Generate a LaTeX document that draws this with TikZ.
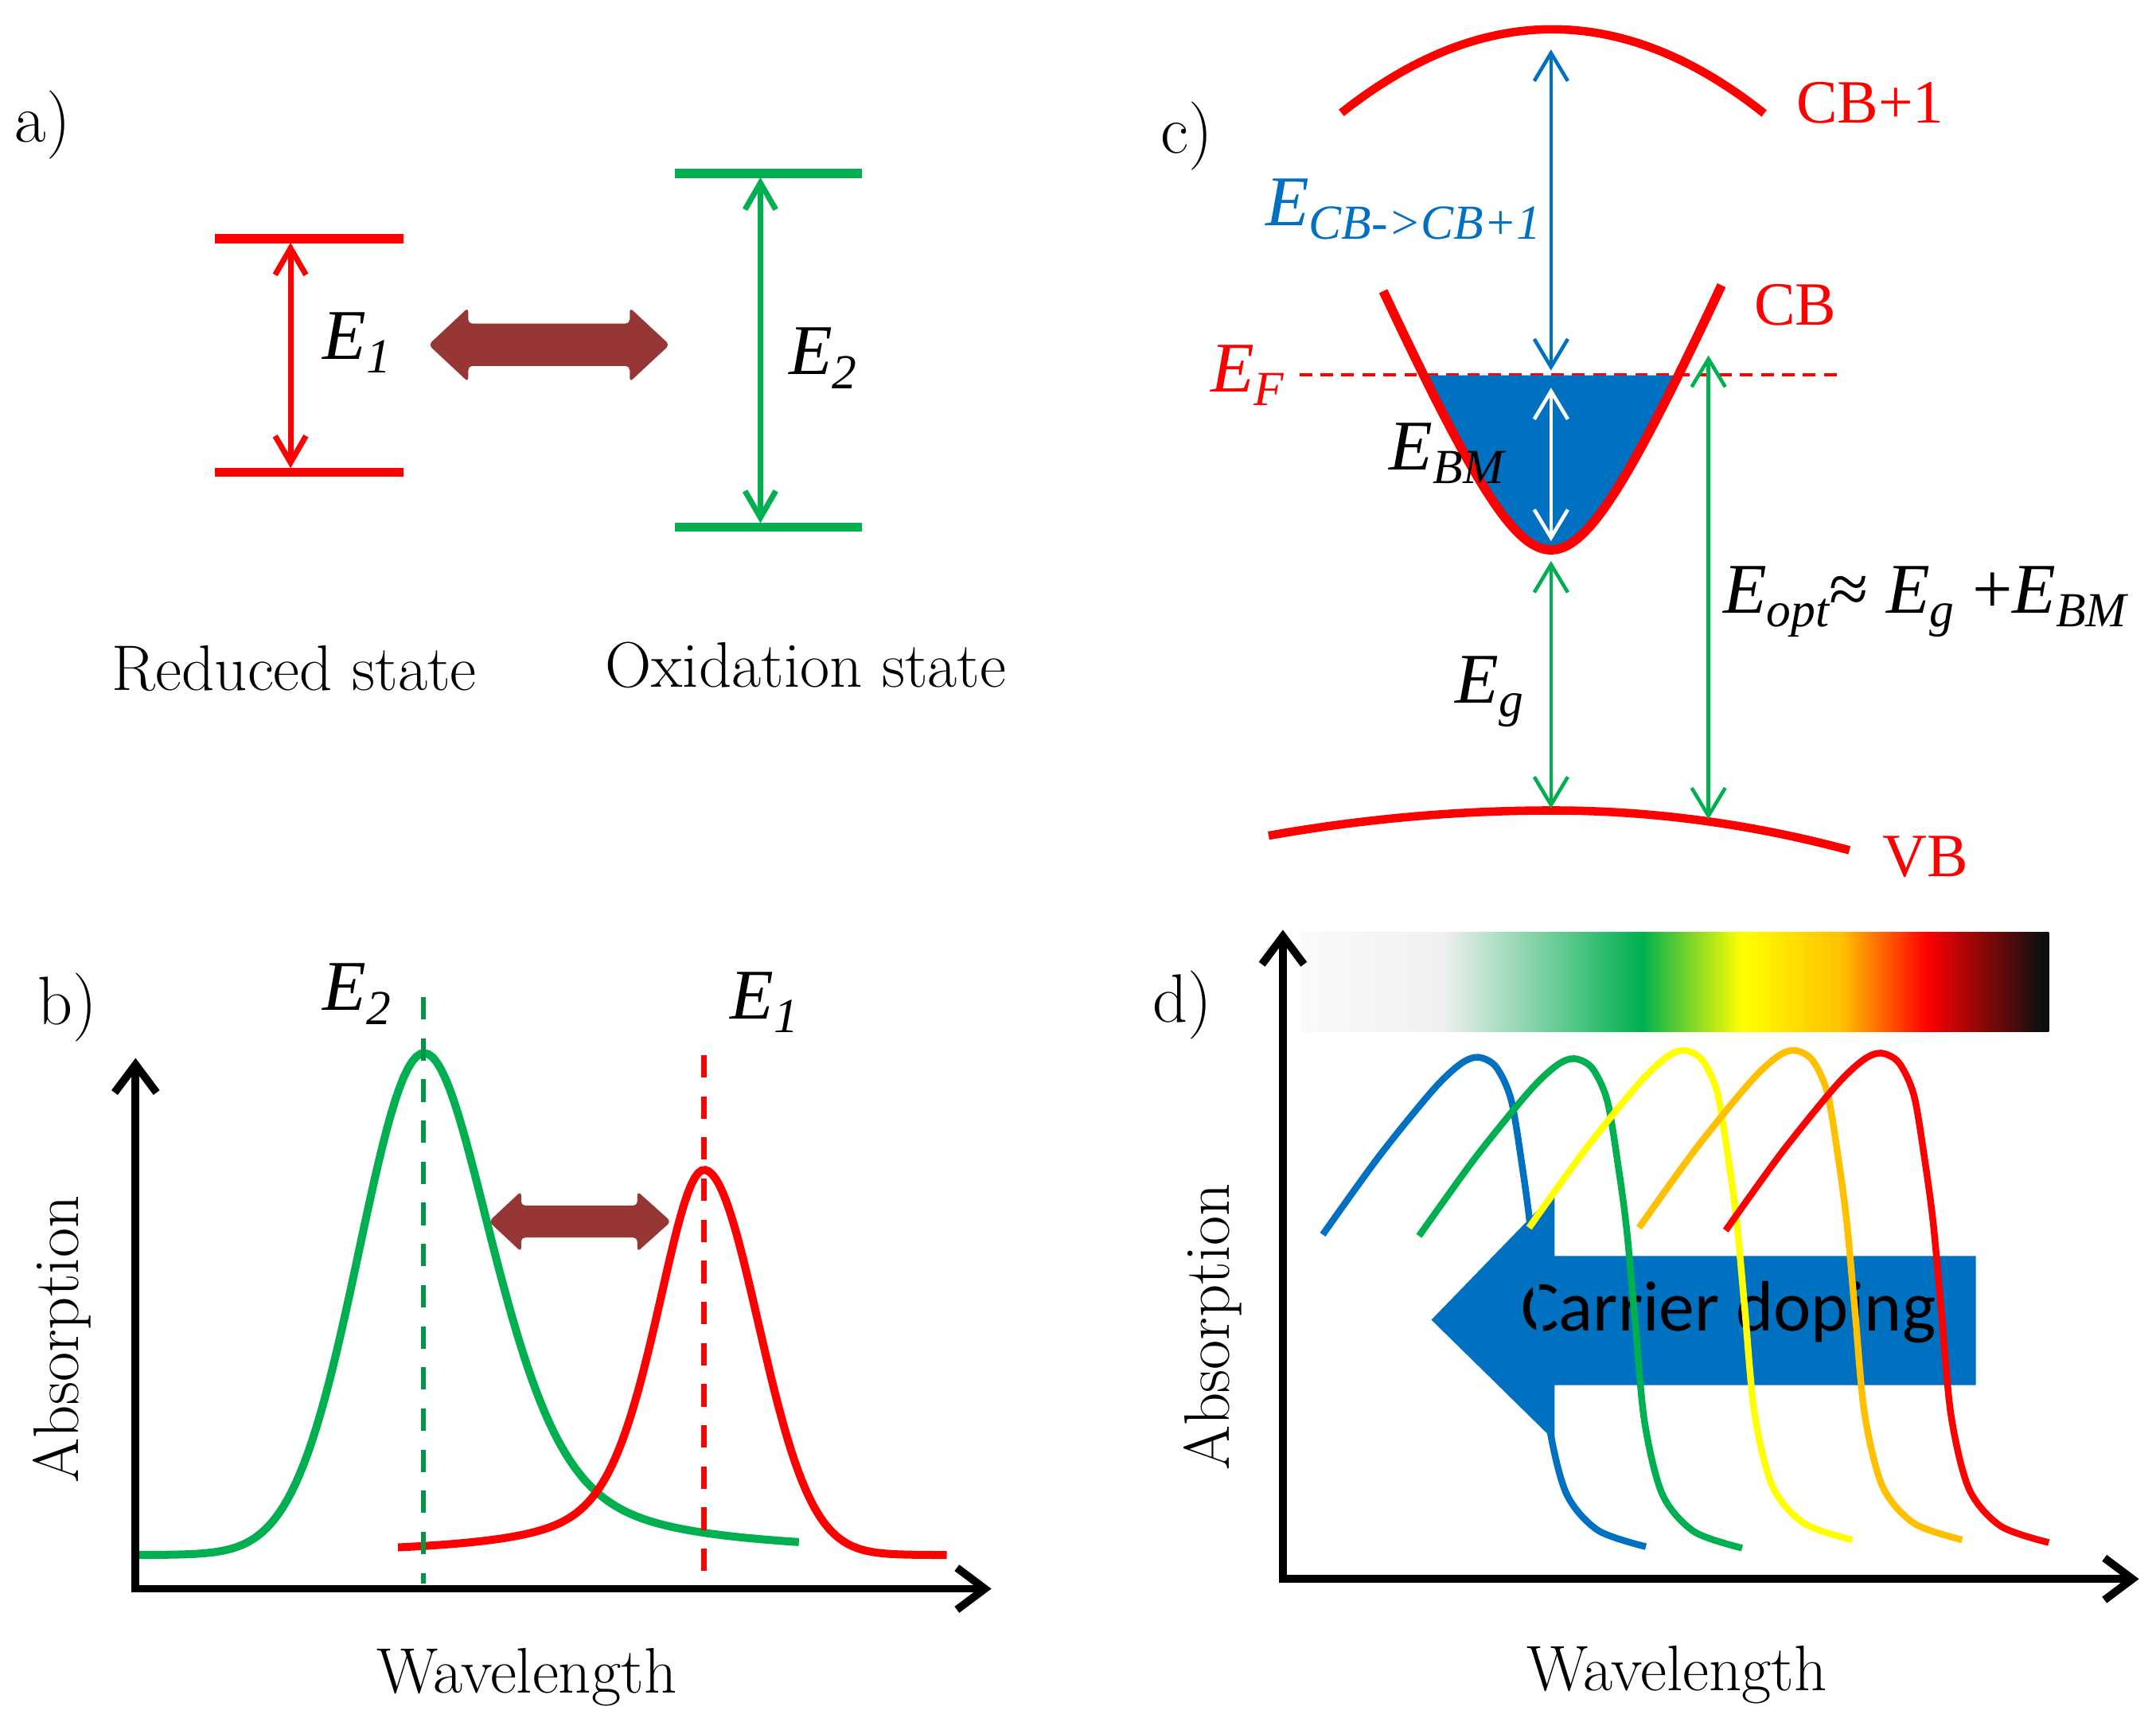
\documentclass[tikz,border=0pt]{standalone}
\usepackage{fontspec}
\newfontfamily\calibri{Carlito}
\newfontfamily\tnr{Liberation Serif}
\usetikzlibrary{arrows.meta}
\definecolor{ored}{RGB}{255,0,0}
\definecolor{ogreen}{RGB}{0,176,80}
\definecolor{dgreen}{RGB}{0,150,70}
\definecolor{oblue}{RGB}{0,112,192}
\definecolor{oorange}{RGB}{255,192,0}
\definecolor{oyellow}{RGB}{255,255,0}
\definecolor{obrown}{RGB}{150,55,53}
\definecolor{barL}{RGB}{250,250,250}
\definecolor{barW}{RGB}{240,240,240}
\definecolor{barK}{RGB}{15,15,15}
\pgfdeclarehorizontalshading{spectrum}{100bp}{color(0bp)=(barL); color(25bp)=(barL); color(34.5bp)=(barW); color(47.8bp)=(ogreen); color(54.5bp)=(oyellow); color(61.2bp)=(oorange); color(66.8bp)=(ored); color(74.5bp)=(barK); color(100bp)=(barK)}
\newcommand{\Es}[1]{{\tnr\itshape E}\raisebox{-4.9pt}{\tnr\fontsize{17.5}{19}\selectfont\itshape #1}}
\begin{document}
\begin{tikzpicture}[x=0.017277cm, y=-0.017277cm,
  lbl/.style={font=\fontsize{23}{27}\selectfont, inner sep=0pt},
  plbl/.style={font=\fontsize{24.5}{28}\selectfont, inner sep=0pt},
  elbl/.style={font=\tnr\fontsize{25.5}{29}\selectfont, inner sep=0pt, anchor=base west},
  bandlbl/.style={font=\tnr\fontsize{22}{26}\selectfont, text=ored, inner sep=0pt, anchor=base west},
  level/.style={line width=3.2pt},
  thinarr/.style={line width=2pt, {Straight Barb[length=9.5pt,width=11pt]}-{Straight Barb[length=9.5pt,width=11pt]}},
  carr/.style={line width=1.3pt, {Straight Barb[length=10pt,width=12pt]}-{Straight Barb[length=10pt,width=12pt]}},
  axes/.style={line width=2.8pt, {Straight Barb[length=10pt,width=15pt]}-{Straight Barb[length=10pt,width=15pt]}},
  bcurve/.style={line width=2.85pt},
  band/.style={line width=3pt, ored},
  dcurve/.style={line width=2.4pt},
  bigarrow/.style={fill=obrown, rounded corners=1.5pt}]
\path[use as bounding box] (0,0) rectangle (1568,1255);

% ---------------- panel a ----------------
\node[plbl] (la) at (31,91) {a)};
\draw[level, ored] (156,173.6) -- (293.4,173.6);
\draw[level, ored] (156,343.4) -- (293.4,343.4);
\coordinate (r1) at (211.3,176.5);
\coordinate (r2) at (211.3,340.5);
\draw[thinarr, ored] (r1) -- (r2);
\draw[level, ogreen] (491,126.2) -- (627,126.2);
\draw[level, ogreen] (491,383.5) -- (627,383.5);
\coordinate (g1) at (553,129);
\coordinate (g2) at (553,380.5);
\draw[thinarr, ogreen] (g1) -- (g2);
\node[elbl] (e1a) at (234.4,261.4) {\Es{1}};
\node[elbl] (e2a) at (573.3,272.5) {\Es{2}};
\fill[bigarrow] (311.6,250.8) -- (340.5,223.8) -- (340.5,235.4) -- (458,235.4) -- (458,223.8) -- (487,250.8) -- (458,277.8) -- (458,266.2) -- (340.5,266.2) -- (340.5,277.8) -- cycle;
\node[lbl] (red) at (214,486) {Reduced state};
\node[lbl] (oxi) at (586,484) {Oxidation state};

% ---------------- panel b ----------------
\node[plbl] (lb) at (49,733) {b)};
\draw[bcurve, ogreen] plot[domain=100:581, samples=160] (\x, {1131-365*((\x<308.5) ? exp(-((\x-308.5)/100)^2/0.4488) : (0.5/(1+((\x-308.5)/63.3)^2)+0.5*exp(-((\x-308.5)/100)^2/0.5165)))});
\draw[bcurve, ored] plot[domain=289.4:688.5, samples=160] (\x, {1131-280*((\x<512) ? (0.5/(1+((\x-512)/45)^2)+0.5*exp(-((\x-512)/100)^2/0.24)) : exp(-((\x-512)/100)^2/0.3078))});
\draw[line width=1.9pt, dgreen, dash pattern=on 8pt off 6.7pt] (308,725.3) -- (308,1152);
\draw[line width=1.9pt, ored, dash pattern=on 8pt off 6.7pt] (512,767.5) -- (512,1150.4);
\draw[axes] (98.6,769.6) -- (98.6,1155.6) -- (721,1155.6);
\fill[bigarrow] (355.5,888.5) -- (379,866.5) -- (379,876.9) -- (463.5,876.9) -- (463.5,866.5) -- (488,888.5) -- (463.5,910.5) -- (463.5,900.1) -- (379,900.1) -- (379,910.5) -- cycle;
\node[elbl] (e2b) at (234.4,735) {\Es{2}};
\node[elbl] (e1b) at (530.7,741) {\Es{1}};
\node[lbl, rotate=90] (absb) at (45,974) {Absorption};
\node[lbl] (wlb) at (383,1220) {Wavelength};

% ---------------- panel c ----------------
\node[plbl] (lc) at (863,99) {c)};
\draw[band] plot[domain=975.5:1283, samples=60] (\x, {21.3+25.8*((\x-1129)/100)^2});
\draw[band] plot[domain=922.6:1345, samples=60] (\x, {589.5+((\x<1129) ? 4.3 : 6.2)*((\x-1129)/100)^2});
\draw[line width=1pt, ored, dash pattern=on 4.5pt off 3pt] (945,272.5) -- (1336,272.5);
\fill[oblue] plot[domain=1035.4:1220.6, samples=100] (\x, {400-115*(sqrt(1+((\x-1128)/50)^2)-1)}) -- cycle;
\draw[line width=3.3pt, ored] plot[domain=1006:1252, samples=140] (\x, {400-115*(sqrt(1+((\x-1128)/50)^2)-1)});
\coordinate (bt) at (1128,36);
\coordinate (bb) at (1128,269.5);
\draw[carr, oblue] (bt) -- (bb);
\coordinate (wt) at (1128,282);
\coordinate (wb) at (1128,393.6);
\draw[carr, white] (wt) -- (wb);
\coordinate (gt) at (1128,408);
\coordinate (gb) at (1128,588);
\draw[carr, ogreen] (gt) -- (gb);
\coordinate (ot) at (1242.5,258.5);
\coordinate (ob) at (1242.5,596);
\draw[carr, ogreen] (ot) -- (ob);
\node[bandlbl] (cb1) at (1306,89.6) {CB+1};
\node[bandlbl] (cb) at (1275.5,236.7) {CB};
\node[bandlbl] (vb) at (1369,637.5) {VB};
\node[elbl, text=ored] (ef) at (880,285) {\Es{F}};
\node[elbl, text=oblue] (ecb) at (920,164.2) {\Es{CB->CB+1}};
\node[elbl] (ebm) at (1010,341.5) {\Es{BM}};
\node[elbl] (eg) at (1058,511.3) {\Es{g}};
\node[elbl] (eopt) at (1252.8,445.7) {\Es{opt}≈ \Es{g} +\Es{BM}};

% ---------------- panel d ----------------
\node[plbl] (ld) at (860,731) {d)};
\shade[shading=spectrum] (946,678.3) rectangle (1490,750.5);
\draw[axes] (933,676.3) -- (933,1148.5) -- (1555.6,1148.5);
\fill[oblue] (1041,960) -- (1130.6,867.5) -- (1130.6,913.5) -- (1437,913.5) -- (1437,1007.5) -- (1130.6,1007.5) -- (1130.6,1048) -- cycle;
\node[font=\calibri\fontsize{25.5}{30}\selectfont, anchor=base, inner sep=0pt] (cd) at (1257,968) {Carrier doping};
\foreach \sx/\sy/\col in {962/898/oblue, 1032/899/ogreen, 1112/893/oyellow, 1192/893/oorange, 1255/895/ored}{
  \draw[dcurve, \col, shift={(\sx,\sy)}] plot[smooth, tension=0.5] coordinates {(0,0) (41,-57) (80,-105) (100,-124) (113,-129) (126,-122) (137,-98) (145,-50) (151,-5) (157,60) (164,135) (177,188) (200,215) (235,227)};
}
\node[lbl, rotate=90] (absd) at (882,965) {Absorption};
\node[lbl] (wld) at (1219.5,1218) {Wavelength};
\end{tikzpicture}
\end{document}
